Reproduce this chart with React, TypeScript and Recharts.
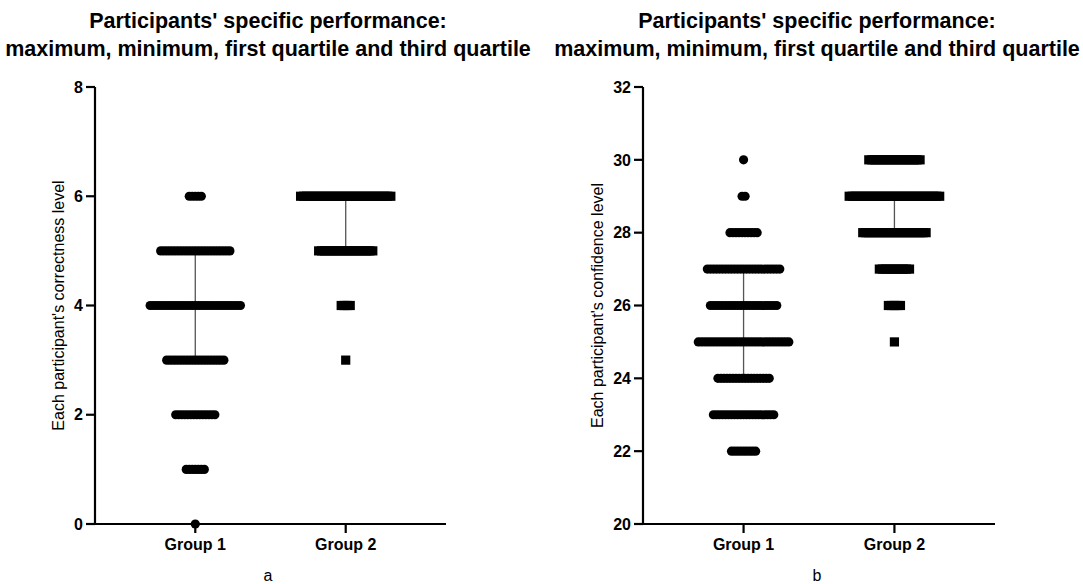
import React from 'react';
import { ScatterChart, Scatter, XAxis, YAxis } from 'recharts';

// Tick labels and categories
const GROUP_NAMES = ['Group 1', 'Group 2'];
const CORRECT_TICKS = [0, 2, 4, 6, 8];
const CONF_TICKS = [20, 22, 24, 26, 28, 30, 32];

// Panel a: correctness level -> number of participants at that level
const correctLevels = [0, 1, 2, 3, 4, 5, 6];
const correctG1Counts = [1, 7, 14, 20, 31, 24, 5];
const correctG2Counts = [0, 0, 0, 1, 4, 19, 31];
const correctG1Quartiles = [3, 5];
const correctG2Quartiles = [5, 6];

// Panel b: confidence level -> number of participants at that level
const confLevels = [22, 23, 24, 25, 26, 27, 28, 29, 30];
const confG1Counts = [9, 21, 18, 31, 23, 25, 10, 2, 1];
const confG2Counts = [0, 0, 0, 1, 5, 11, 22, 31, 18];
const confG1Quartiles = [24, 27];
const confG2Quartiles = [28, 29];

// horizontal spread of overlapping points, in x data units (1 unit = one group gap)
const SPREAD = 0.02;

function spreadPoints(levels: number[], counts: number[], group: number) {
  const pts: { x: number; y: number }[] = [];
  levels.forEach((lvl, i) => {
    const n = counts[i];
    for (let k = 0; k < n; k++) {
      pts.push({ x: group + (k - (n - 1) / 2) * SPREAD, y: lvl });
    }
  });
  return pts;
}

const Dot = (props: any) => <circle cx={props.cx} cy={props.cy} r={4.6} fill="#000" />;
const Square = (props: any) => (
  <rect x={props.cx - 4.6} y={props.cy - 4.6} width={9.2} height={9.2} fill="#000" />
);
const NoShape = () => <g />;

interface PanelProps {
  left: number;
  marginLeft: number;
  marginRight: number;
  yWidth: number;
  domain: [number, number];
  ticks: number[];
  yLabel: string;
  levels: number[];
  g1Counts: number[];
  g2Counts: number[];
  g1Q: number[];
  g2Q: number[];
}

function Panel(p: PanelProps) {
  const g1 = spreadPoints(p.levels, p.g1Counts, 1);
  const g2 = spreadPoints(p.levels, p.g2Counts, 2);
  const q1 = p.g1Q.map((y) => ({ x: 1, y }));
  const q2 = p.g2Q.map((y) => ({ x: 2, y }));
  const axisStyle = { stroke: '#000', strokeWidth: 2.2 };
  return (
    <div style={{ position: 'absolute', left: p.left, top: 0 }}>
      <ScatterChart
        width={540}
        height={584}
        margin={{ top: 87, right: p.marginRight, bottom: 30, left: p.marginLeft }}
      >
        <XAxis
          type="number"
          dataKey="x"
          domain={[1 / 3, 8 / 3]}
          ticks={[1, 2]}
          height={30}
          stroke="#000"
          strokeWidth={2.2}
          tickFormatter={(v: number) => GROUP_NAMES[Math.round(v) - 1]}
          tick={{ fill: '#000', fontSize: 16, fontWeight: 'bold', stroke: 'none' }}
          axisLine={axisStyle}
          tickLine={axisStyle}
          tickSize={9}
          tickMargin={6}
        />
        <YAxis
          type="number"
          dataKey="y"
          domain={p.domain}
          ticks={p.ticks}
          width={p.yWidth}
          stroke="#000"
          strokeWidth={2.2}
          tick={{ fill: '#000', fontSize: 16, fontWeight: 'bold', stroke: 'none' }}
          axisLine={axisStyle}
          tickLine={axisStyle}
          tickSize={9}
          tickMargin={3}
          label={{ value: p.yLabel, angle: -90, position: 'center', fill: '#000', stroke: 'none', strokeWidth: 0, fontSize: 16 }}
        />
        <Scatter data={q1} shape={NoShape} line={{ stroke: '#555', strokeWidth: 1.3 }} isAnimationActive={false} />
        <Scatter data={q2} shape={NoShape} line={{ stroke: '#555', strokeWidth: 1.3 }} isAnimationActive={false} />
        <Scatter data={g1} shape={Dot} isAnimationActive={false} />
        <Scatter data={g2} shape={Square} isAnimationActive={false} />
      </ScatterChart>
    </div>
  );
}

const titleStyle: React.CSSProperties = {
  position: 'absolute',
  top: 7,
  width: 540,
  textAlign: 'center',
  fontWeight: 'bold',
  fontSize: 21.5,
  lineHeight: '28px',
  color: '#000',
};

const subStyle: React.CSSProperties = {
  position: 'absolute',
  top: 566,
  width: 20,
  textAlign: 'center',
  fontSize: 16,
  lineHeight: '20px',
  color: '#000',
};

export default function App() {
  return (
    <div
      style={{
        position: 'absolute',
        left: 0,
        top: 0,
        width: 1083,
        height: 584,
        background: '#fff',
        fontFamily: '"Liberation Sans", Arial, sans-serif',
        overflow: 'hidden',
      }}
    >
      <div style={{ ...titleStyle, left: -2 }}>
        Participants' specific performance:
        <br />
        maximum, minimum, first quartile and third quartile
      </div>
      <div style={{ ...titleStyle, left: 547 }}>
        Participants' specific performance:
        <br />
        maximum, minimum, first quartile and third quartile
      </div>
      <Panel
        left={0}
        marginLeft={21}
        marginRight={94}
        yWidth={74}
        domain={[0, 8]}
        ticks={CORRECT_TICKS}
        yLabel="Each participant's correctness level"
        levels={correctLevels}
        g1Counts={correctG1Counts}
        g2Counts={correctG2Counts}
        g1Q={correctG1Quartiles}
        g2Q={correctG2Quartiles}
      />
      <Panel
        left={543}
        marginLeft={8}
        marginRight={88}
        yWidth={92}
        domain={[20, 32]}
        ticks={CONF_TICKS}
        yLabel="Each participant's confidence level"
        levels={confLevels}
        g1Counts={confG1Counts}
        g2Counts={confG2Counts}
        g1Q={confG1Quartiles}
        g2Q={confG2Quartiles}
      />
      <div style={{ ...subStyle, left: 258 }}>a</div>
      <div style={{ ...subStyle, left: 807 }}>b</div>
    </div>
  );
}
